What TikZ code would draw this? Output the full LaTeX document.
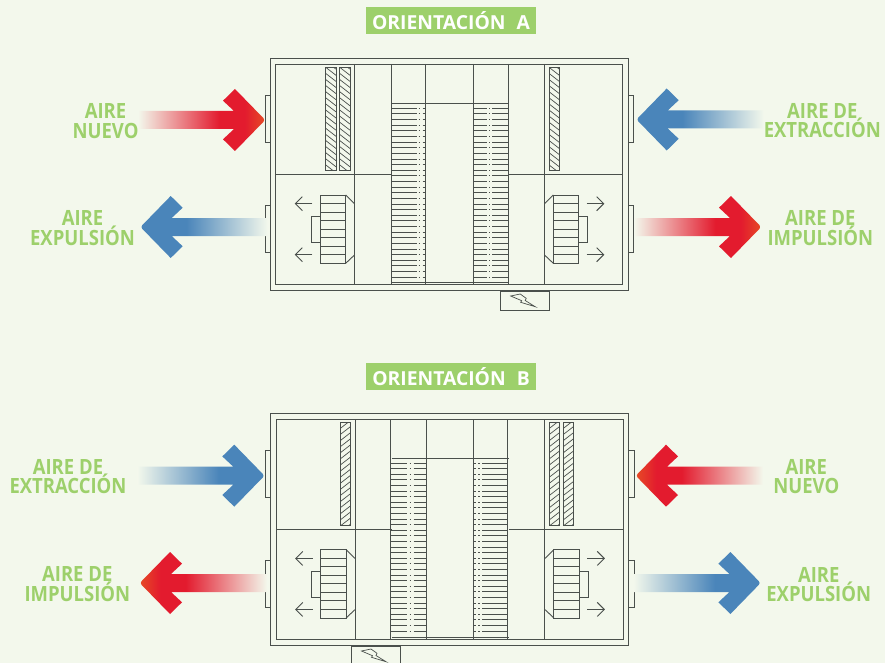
\documentclass[tikz,border=0pt]{standalone}
\usepackage{fontspec}
\setmainfont[FakeStretch=0.88]{Open Sans}
\newfontfamily\titlefont{Open Sans}
\usetikzlibrary{arrows.meta}

\definecolor{paper}{HTML}{F3F8EC}
\definecolor{leaf}{HTML}{9DD06B}
\definecolor{ink}{HTML}{4A504C}
\definecolor{hotred}{HTML}{E31B2E}
\definecolor{hotorange}{HTML}{E64B26}
\definecolor{coldblue}{HTML}{4A85BA}

\pgfdeclarehorizontalshading{redflow}{100bp}{color(0bp)=(paper); color(25bp)=(paper); color(57bp)=(hotred); color(67bp)=(hotred); color(75bp)=(hotorange); color(100bp)=(hotorange)}
\pgfdeclarehorizontalshading{blueflow}{100bp}{color(0bp)=(paper); color(25bp)=(paper); color(57bp)=(coldblue); color(100bp)=(coldblue)}

\tikzset{
  x=1pt,y=-1pt,
  wall/.style={draw=ink,line width=0.9pt},
  slat/.style={draw=ink,line width=0.9pt},
  title/.style={fill=leaf,text=white,font=\titlefont\bfseries\fontsize{19.3}{21}\selectfont,minimum width=170pt,minimum height=27pt,inner sep=0pt},
  tag/.style={text=leaf,font=\bfseries\fontsize{21}{19.6}\selectfont,align=center,inner sep=0pt},
  redright/.style={shading=redflow},
  redleft/.style={shading=redflow,shading angle=180,xscale=-1},
  blueright/.style={shading=blueflow},
  blueleft/.style={shading=blueflow,shading angle=180,xscale=-1},
  airflow/.pic={
    \shade (-126,-9) -- (-30,-9) -- (-41,-19.3) -- (-29,-31)
      [rounded corners=2.5pt] -- (1.2,0) [sharp corners] -- (-29,31) -- (-41,19.3) -- (-30,9) -- (-126,9) -- cycle;
  },
  casing/.pic={
    \draw[wall] (0,0) rectangle (358,231.7);
    \draw[wall] (5.5,5.7) rectangle (352.2,226);
    \draw[wall] (-5.3,37) rectangle (0,84);
    \draw[wall] (-5.3,147) rectangle (0,194);
    \draw[wall] (358,37) rectangle (363.3,84);
    \draw[wall] (358,147) rectangle (363.3,194);
    \draw[wall] (352.2,115.7) -- (237.8,115.7);
    \draw[wall] (5.5,115.7) -- (121,115.7);
    \draw[wall] (121,45) -- (238,45);
    \draw[wall] (121,223.7) -- (238,223.7);
  },
  fan/.pic={
    \draw[wall] (0,0) rectangle (25.4,68.3);
    \foreach \k in {1,...,7} \draw[slat] (0,8.54*\k) -- (25.4,8.54*\k);
    \draw[wall] (0,21.3) -- (-9,21.3) -- (-9,47.3) -- (0,47.3);
    \draw[wall] (25.4,0) -- (34.2,8.7);
    \draw[wall] (25.4,68.3) -- (34.2,60);
    \draw[wall,-{Straight Barb[length=7pt,width=14pt]}] (-8,8.7) -- (-25.6,8.7);
    \draw[wall,-{Straight Barb[length=7pt,width=14pt]}] (-8,59.7) -- (-25.6,59.7);
  },
  filterdown/.pic={
    \begin{scope}
      \clip (0,0) rectangle (10.3,103.4);
      \foreach \k in {-2,...,17} \draw[ink,line width=0.7pt] (0,6.1*\k) -- (10.3,6.1*\k+8);
    \end{scope}
    \draw[wall] (0,0) rectangle (10.3,103.4);
  },
  filterup/.pic={
    \begin{scope}
      \clip (0,0) rectangle (10.3,103.4);
      \foreach \k in {-1,...,18} \draw[ink,line width=0.7pt] (0,6.1*\k) -- (10.3,6.1*\k-8);
    \end{scope}
    \draw[wall] (0,0) rectangle (10.3,103.4);
  },
  bolt/.pic={
    \draw[ink,line width=0.7pt] (0,0) -- (9.5,-2) -- (15.5,2.3) -- (14.5,4.5) -- (24.5,10.7) -- (10,6.3) -- (11,4.7) -- cycle;
  }
}

\begin{document}
\begin{tikzpicture}
  \useasboundingbox (0,0) rectangle (885,663);
  \fill[paper] (0,0) rectangle (885,663);

  % orientation A
  \node[title] (titleA) at (451,20.5) {ORIENTACIÓN\hspace{11pt}A};
  \pic at (270.4,58.3) {casing};
  \foreach \xv in {354.5,391.7,425.5,473.3,508.3,544.3} \draw[wall] (\xv,64) -- (\xv,284.3);
  \foreach \k in {0,...,30} {
    \draw[slat,dash pattern=on 25pt off 2pt on 1.2pt off 2.8pt on 2.6pt] (391.7,108.3+5.63*\k) -- (425.5,108.3+5.63*\k);
    \draw[slat,dash pattern=on 13.4pt off 2.2pt on 1.2pt off 2.2pt on 16pt] (473.3,108.3+5.63*\k) -- (508.3,108.3+5.63*\k);
  }
  \pic at (325.7,67.3) {filterdown};
  \pic at (339.7,67.3) {filterdown};
  \pic at (549,67.3) {filterdown};
  \pic at (320.3,195) {fan};
  \pic[xscale=-1] at (578.7,195) {fan};
  \draw[wall] (500.3,291.3) rectangle (549.3,310.3);
  \pic at (510.7,296) {bolt};

  \pic[redright] at (264,120) {airflow};
  \pic[blueleft] at (637.7,119.5) {airflow};
  \pic[blueleft] at (141.7,227) {airflow};
  \pic[redright] at (760,227) {airflow};

  \node[tag] (nuevoA) at (105.5,121) {AIRE\\NUEVO};
  \node[tag] (extraccionA) at (822.3,120.5) {AIRE DE\\EXTRACCIÓN};
  \node[tag] (expulsionA) at (82.5,228) {AIRE\\EXPULSIÓN};
  \node[tag] (impulsionA) at (820.3,228) {AIRE DE\\IMPULSIÓN};

  % orientation B
  \node[title] (titleB) at (451,376.5) {ORIENTACIÓN\hspace{11pt}B};
  \pic at (270.8,413.3) {casing};
  \foreach \xv in {355,390.7,426,473.7,507.7,544.3} \draw[wall] (\xv,419) -- (\xv,639.3);
  \foreach \k in {0,...,30} {
    \draw[slat,dash pattern=on 16pt off 3pt on 1pt off 3pt on 13pt] (390.7,463+5.6*\k) -- (426,463+5.6*\k);
    \draw[slat,dash pattern=on 2pt off 2.5pt on 1.5pt off 2.5pt on 27pt] (473.7,463+5.6*\k) -- (507.7,463+5.6*\k);
  }
  \pic at (340.3,422.3) {filterup};
  \pic at (549.3,422.3) {filterup};
  \pic at (563.3,422.3) {filterup};
  \pic at (320.7,549.7) {fan};
  \pic[xscale=-1] at (579.3,549.7) {fan};
  \draw[wall] (351.7,663) -- (351.7,646.3) -- (400,646.3) -- (400,663);
  \pic at (361.5,651) {bolt};

  \pic[blueright] at (263.3,475.7) {airflow};
  \pic[redleft] at (637,475.7) {airflow};
  \pic[redleft] at (141,583) {airflow};
  \pic[blueright] at (759.4,583) {airflow};

  \node[tag] (extraccionB) at (68,476.5) {AIRE DE\\EXTRACCIÓN};
  \node[tag] (nuevoB) at (806.3,476.5) {AIRE\\NUEVO};
  \node[tag] (impulsionB) at (77.3,584) {AIRE DE\\IMPULSIÓN};
  \node[tag] (expulsionB) at (818.7,584.7) {AIRE\\EXPULSIÓN};
\end{tikzpicture}
\end{document}
